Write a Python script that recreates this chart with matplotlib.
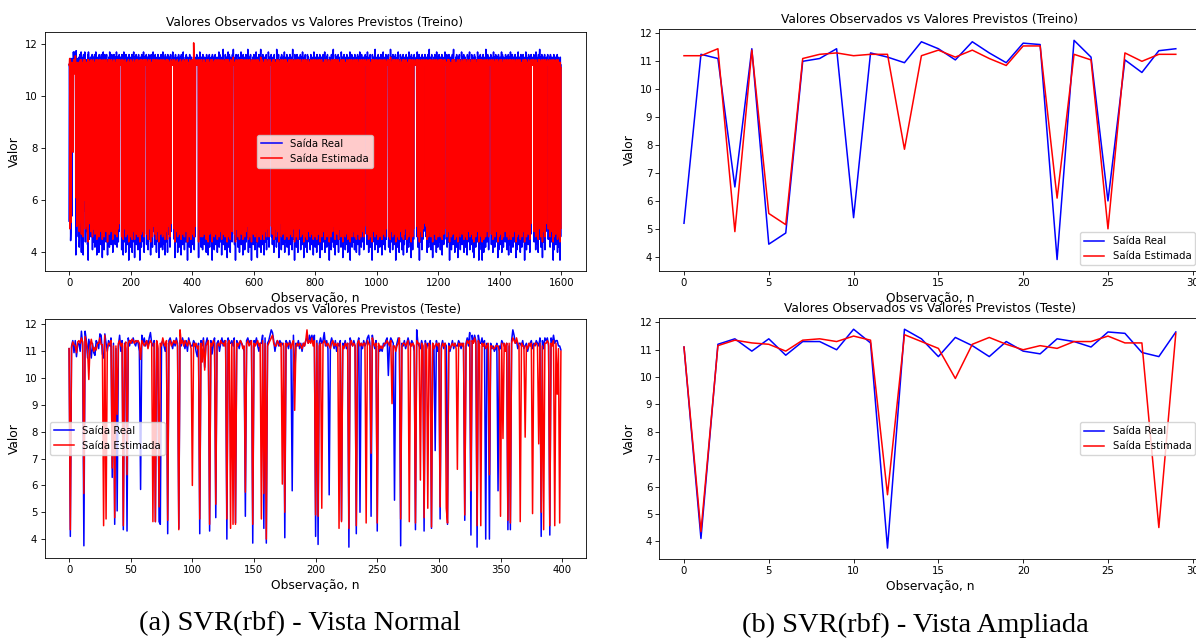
import numpy as np
import matplotlib
matplotlib.use("Agg")
import matplotlib.pyplot as plt

# ---------------- data (real/estimated pairs) ----------------
TRAIN_PAIRS = """
5.2/11.2 11.25/11.2 11.1/11.45 6.5/4.9 11.45/11.4 4.45/5.55 4.85/5.15 11.0/11.1 11.1/11.25 11.45/11.3
5.4/11.2 11.3/11.25 11.15/11.25 10.95/7.85 11.7/11.2 11.45/11.4 11.05/11.15 11.7/11.4 11.3/11.1 10.95/10.85
11.65/11.55 11.6/11.55 3.9/6.1 11.75/11.25 11.15/11.05 6.0/5.0 11.05/11.3 10.6/11.0 11.38/11.25 11.45/11.25
4.6/5.1 11.3/11.2 11.5/11.3 4.2/4.8 4.9/5.3 11.6/11.3 11.4/11.2 11.2/11.4 5.1/5.4 11.7/11.4
4.0/4.7 11.3/11.2 11.5/11.3 11.1/11.3 4.7/5.2 11.4/11.2 3.9/4.6 11.6/11.4 11.2/11.3 5.6/6.0
11.3/11.1 11.7/11.4 11.5/11.4 4.4/4.9 11.2/11.3 4.8/5.0 11.0/11.3 11.4/11.3 6.2/10.8 11.3/11.2
4.3/4.7 11.6/11.4 3.7/4.4 11.7/11.4 11.3/11.2 4.5/5.1 11.2/11.3 11.4/11.3 11.1/11.2 5.0/5.3
11.5/11.3 4.6/4.8 11.3/11.4 11.2/11.1 7.2/6.8 11.6/11.3 4.1/4.6 11.4/11.2 11.3/11.3 11.5/11.4
4.4/4.9 6.0/5.2 11.2/11.3 11.6/11.3 4.2/4.7 11.3/11.2 11.1/11.3 11.7/11.4 4.9/5.3 11.3/11.2
3.9/4.5 11.4/11.3 11.2/11.4 4.6/5.0 11.5/11.2 5.3/10.9 11.3/11.3 4.0/4.6 11.6/11.4 11.2/11.1

11.5/11.3 11.3/11.2 4.7/5.1 11.1/11.4 4.3/4.8 11.6/11.3 11.4/11.2 11.2/11.3 3.8/4.5 5.5/5.6
11.3/11.4 11.7/11.3 4.5/4.9 11.2/11.2 4.1/4.6 11.4/11.3 11.6/11.4 4.8/5.2 11.3/11.1 11.5/11.3
4.4/4.8 11.2/11.3 11.6/11.4 5.2/5.5 11.3/11.2 3.9/4.4 11.4/11.3 11.1/11.2 4.6/4.9 11.5/11.4
11.3/11.2 4.2/4.7 11.7/11.4 11.4/11.3 4.7/5.0 11.2/11.2 11.5/11.3 4.3/4.8 11.3/11.4 11.6/11.3
4.9/5.2 11.2/11.1 4.0/4.5 11.4/11.3 11.3/11.2 4.5/4.9 11.6/11.4 11.2/11.3 5.0/5.4 11.4/11.2
4.3/4.7 11.5/11.3 11.3/11.2 4.6/5.0 11.7/11.4 11.2/11.3 4.2/4.6 11.1/11.2 11.5/11.4 10.6/10.5
4.4/4.9 11.3/11.2 4.8/5.1 11.6/11.4 11.2/11.3 11.4/11.3 11.4/11.2 11.5/11.3 11.3/11.2 11.3/11.4
11.2/11.3 4.1/4.6 11.6/11.3 4.7/5.0 11.3/11.2 11.4/11.4 3.9/4.5 11.2/11.2 11.7/11.3 5.1/5.3
11.3/11.2 4.4/4.9 11.5/11.3 11.2/11.4 4.0/4.6 11.6/11.3 4.6/5.1 11.3/11.2 11.4/11.3 4.3/4.7
11.2/11.3 11.5/11.2 4.8/5.2 11.3/11.4 3.7/4.4 11.6/11.3 11.2/11.2 4.5/4.9 11.4/11.3 11.3/11.1

4.2/4.6 11.5/11.4 11.3/11.2 4.7/5.0 11.6/11.3 4.0/4.5 11.2/11.3 11.4/11.2 5.0/5.3 11.3/11.4
11.7/11.4 4.4/4.8 11.2/11.2 3.8/4.5 11.5/11.3 11.3/11.3 4.6/5.1 11.1/11.2 11.6/11.4 4.3/4.7
11.4/11.3 11.2/11.2 4.9/5.2 11.5/11.4 4.1/4.6 11.3/11.2 11.6/11.3 4.5/4.9 11.2/11.3 11.4/11.2
3.7/4.4 11.3/11.4 11.5/11.3 4.7/5.0 11.2/11.2 4.2/4.7 11.6/11.4 11.3/11.2 4.8/5.1 11.4/11.3
11.2/11.3 4.4/4.8 11.7/11.4 11.3/11.2 4.0/4.6 11.5/11.3 11.3/11.4 11.2/11.2 11.4/11.3 11.5/11.3
11.3/11.2 11.6/11.4 4.3/4.7 11.2/11.3 4.9/5.2 11.5/11.3 11.3/11.2 4.1/4.5 11.4/11.4 11.6/11.3
4.5/4.9 11.2/11.2 11.3/11.3 4.7/5.1 11.5/11.4 3.9/4.4 11.2/11.2 11.6/11.3 4.4/4.8 11.3/11.2
11.4/11.3 4.2/4.6 11.2/11.4 11.7/11.3 4.8/5.0 11.3/11.2 5.0/5.3 11.5/11.4 11.2/11.2 4.3/4.7
11.6/11.3 11.3/11.2 4.6/5.0 11.4/11.4 4.0/4.5 11.2/11.3 11.5/11.2 4.9/5.2 11.3/11.3 11.6/11.4
4.4/4.8 11.2/11.2 3.8/4.4 11.4/11.3 11.3/11.2 4.7/5.1 11.5/11.4 11.2/11.3 4.2/4.7 11.6/11.3

11.3/11.2 4.5/4.9 11.4/11.4 11.2/11.2 4.1/4.6 11.7/11.3 4.8/5.0 11.3/11.2 11.5/11.4 4.3/4.7
11.2/11.3 11.4/11.2 3.9/4.5 11.6/11.3 11.3/11.2 4.6/5.1 11.2/11.4 11.5/11.3 4.4/4.8 11.3/11.2
4.0/4.5 11.6/11.4 11.2/11.2 4.7/5.0 11.4/11.3 11.3/11.2 5.1/5.4 11.5/11.3 4.2/4.6 11.2/11.2
11.6/11.4 4.8/5.1 11.3/11.3 11.4/11.2 11.3/11.3 11.2/11.3 11.5/11.2 11.7/11.4 11.3/11.2 11.4/11.3
11.5/11.3 11.2/11.2 4.5/4.9 11.4/11.4 3.8/4.4 11.3/11.2 11.6/11.3 4.9/5.2 11.2/11.3 11.4/11.2
4.4/4.8 11.3/11.2 11.5/11.4 4.0/4.6 11.2/11.2 4.7/5.0 11.6/11.3 11.3/11.3 4.2/4.7 11.4/11.2
11.2/11.3 4.6/5.1 11.5/11.4 11.3/11.2 3.9/4.5 11.6/11.3 11.2/11.2 4.8/5.0 11.4/11.3 4.3/4.7
11.3/11.2 11.7/11.4 4.5/4.9 11.2/11.3 11.4/11.2 4.1/4.6 11.3/11.3 5.0/5.3 11.5/11.4 11.2/11.2
4.4/4.8 11.6/11.3 11.3/11.2 4.7/5.1 11.2/11.4 3.7/4.4 11.5/11.3 11.3/11.2 4.6/4.9 11.4/11.3
11.2/11.2 4.2/4.6 11.6/11.4 11.3/11.2 4.9/5.2 11.4/11.3 4.0/4.5 11.2/11.2 11.5/11.3 4.5/4.9

11.3/11.4 11.4/11.2 4.3/4.7 11.2/11.3 4.8/5.1 11.3/12.05 11.6/11.4 4.1/4.6 11.2/11.2 11.5/11.3
4.6/5.0 11.3/11.2 11.4/11.4 11.2/11.3 11.2/11.3 11.6/11.2 11.4/11.3 11.3/11.3 11.2/11.2 11.5/11.4
11.2/11.2 3.8/4.4 11.4/11.3 11.3/11.2 4.5/4.9 11.7/11.4 11.2/11.3 4.9/5.2 11.4/11.2 4.2/4.6
11.3/11.3 11.5/11.4 4.6/5.0 11.2/11.2 4.1/4.6 11.6/11.3 11.3/11.2 4.8/5.1 11.4/11.4 11.2/11.2
4.3/4.7 11.5/11.3 10.3/10.4 11.3/11.2 4.7/5.0 11.2/11.3 4.0/4.5 11.6/11.4 11.3/11.2 4.5/4.9
11.4/11.3 11.2/11.2 3.9/4.4 11.5/11.4 4.6/5.1 11.3/11.2 11.6/11.3 4.2/4.7 11.2/11.2 11.4/11.3
4.8/5.0 11.3/11.4 11.5/11.2 4.4/4.8 11.2/11.3 3.7/4.4 11.6/11.4 11.3/11.2 4.6/4.9 11.4/11.3
11.2/11.2 11.5/11.3 4.1/4.6 11.3/11.2 4.9/5.2 11.6/11.4 11.2/11.3 4.3/4.7 11.4/11.2 11.3/11.3
4.7/5.1 11.5/11.4 4.0/4.5 11.2/11.2 11.4/11.3 4.5/4.9 11.3/11.2 11.7/11.4 4.2/4.6 11.2/11.3
11.6/11.3 4.8/5.0 11.3/11.2 4.4/4.8 11.4/11.4 11.2/11.2 3.9/4.5 11.5/11.3 11.3/11.2 4.6/5.1

11.2/11.3 11.8/11.4 4.3/4.7 11.4/11.2 4.7/5.0 11.3/11.3 11.2/11.2 4.1/4.6 11.6/11.4 5.6/7.1
11.3/11.2 4.5/4.9 11.5/11.3 11.2/11.4 3.8/4.4 11.4/11.3 4.9/5.2 11.7/11.4 11.3/11.2 4.2/4.6
11.2/11.2 11.6/11.3 4.6/5.0 11.3/11.3 4.0/4.5 11.5/11.4 11.2/11.2 4.8/5.1 11.4/11.3 11.3/11.2
4.4/4.8 11.6/11.4 11.2/11.3 11.3/11.2 11.8/11.5 11.3/11.2 11.4/11.3 11.4/11.3 4.3/4.7 11.2/11.2
11.5/11.3 3.7/4.4 11.3/11.2 11.6/11.4 4.5/4.9 11.2/11.3 11.4/11.2 4.9/5.3 11.3/11.3 4.2/4.6
11.6/11.4 11.2/11.2 4.6/5.0 11.4/11.3 4.0/4.5 11.3/11.2 11.5/11.4 4.8/5.1 11.2/11.3 11.7/11.4
4.3/4.7 11.3/11.2 4.7/5.0 11.4/11.4 11.2/11.2 3.9/4.5 11.6/11.3 11.3/11.2 4.5/4.9 11.5/11.4
11.2/11.3 4.1/4.6 11.4/11.2 11.3/11.3 4.8/5.2 11.6/11.4 4.4/4.8 11.2/11.2 11.5/11.3 11.3/11.2
4.6/5.0 11.8/11.4 11.2/11.3 4.0/4.5 11.4/11.2 4.7/5.1 11.3/11.3 11.5/11.4 4.2/4.6 11.2/11.2
11.6/11.3 4.9/5.2 11.3/11.2 3.7/4.4 11.4/11.4 11.2/11.3 4.5/4.9 11.5/11.2 11.3/11.3 4.3/4.7

11.2/11.2 11.6/11.4 4.6/5.0 11.3/11.3 4.1/4.6 11.4/11.2 11.2/11.3 4.8/5.1 11.7/11.4 11.3/11.2
4.4/4.8 11.5/11.3 3.8/4.4 11.2/11.2 11.4/11.4 4.7/5.0 11.3/11.2 11.6/11.3 4.2/4.6 11.2/11.3
11.4/11.2 4.5/4.9 11.3/11.3 11.8/11.5 4.0/4.5 11.2/11.2 4.9/5.2 11.5/11.4 11.3/11.2 4.3/4.7
11.6/11.3 11.2/11.3 4.6/5.1 11.4/11.2 3.9/4.5 11.3/11.3 11.5/11.4 4.8/5.0 11.2/11.2 4.4/4.8
11.3/11.2 11.6/11.4 4.1/4.6 11.2/11.3 4.7/5.1 11.4/11.2 11.3/11.3 4.5/4.9 11.7/11.4 11.2/11.2
4.2/4.6 11.5/11.3 11.3/11.2 11.2/11.3 11.4/11.4 11.3/11.2 11.2/11.2 11.6/11.3 4.6/5.0 11.3/11.2
11.4/11.3 4.3/4.7 11.2/11.2 11.5/11.4 4.8/5.1 11.3/11.3 4.0/4.5 11.6/11.4 11.2/11.2 4.5/4.9
11.4/11.3 11.3/11.2 4.7/5.0 11.2/11.3 4.2/4.6 11.8/11.4 11.3/11.2 6.4/6.0 11.5/11.3 4.4/4.8
11.2/11.2 11.6/11.4 3.8/4.4 11.3/11.3 4.6/5.1 11.4/11.2 11.2/11.3 4.9/5.2 11.5/11.4 11.3/11.2
4.1/4.6 11.6/11.3 11.2/11.2 4.7/5.0 11.4/11.4 4.3/4.7 11.3/11.2 11.5/11.3 4.5/4.9 11.2/11.2

11.7/11.4 4.0/4.5 11.3/11.3 11.2/11.2 4.8/5.1 11.5/11.4 4.4/4.8 11.3/11.2 11.6/11.3 4.2/4.6
11.2/11.3 11.4/11.2 4.6/5.0 11.3/11.3 3.9/4.5 11.5/11.4 11.2/11.2 4.7/5.1 11.6/11.3 11.3/11.2
4.3/4.7 11.4/11.4 11.2/11.2 4.9/5.2 11.5/11.3 4.1/4.6 11.3/11.2 11.8/11.4 4.5/4.9 11.2/11.3
11.4/11.2 4.8/5.0 11.3/11.3 3.7/4.4 11.6/11.4 11.2/11.2 4.6/5.1 11.5/11.3 11.3/11.2 4.2/4.6
11.2/11.2 11.6/11.4 4.4/4.8 11.4/11.3 4.0/4.5 11.3/11.2 11.5/11.4 4.7/5.0 11.2/11.3 11.4/11.2
4.5/4.9 11.3/11.3 11.6/11.4 4.1/4.6 11.2/11.2 4.9/5.2 11.5/11.3 11.3/11.2 4.3/4.7 11.7/11.4
11.2/11.2 4.6/5.0 11.4/11.3 3.8/4.4 11.3/11.2 11.5/11.4 4.8/5.1 11.2/11.3 11.6/11.2 4.2/4.6
11.3/11.3 11.4/11.4 4.5/4.9 11.2/11.2 4.0/4.5 11.6/11.3 11.3/11.2 4.7/5.1 11.5/11.4 11.2/11.2
4.4/4.8 11.3/11.3 8.6/7.9 11.4/11.2 4.1/4.6 11.2/11.3 11.6/11.4 4.9/5.2 11.3/11.2 4.3/4.7
11.5/11.3 11.2/11.2 4.6/5.0 11.4/11.4 3.9/4.5 11.3/11.2 11.7/11.4 4.8/5.1 11.2/11.3 11.4/11.2

4.2/4.6 11.3/11.3 11.5/11.4 4.5/4.9 11.2/11.2 4.0/4.5 11.6/11.3 11.3/11.2 4.7/5.0 11.4/11.4
11.2/11.2 4.3/4.7 11.5/11.3 11.3/11.2 4.9/5.2 11.6/11.4 3.8/4.4 11.2/11.3 11.4/11.2 4.6/5.0
11.3/11.3 11.5/11.4 4.1/4.6 11.2/11.2 4.8/5.1 11.4/11.3 11.6/11.2 4.4/4.8 11.3/11.3 11.2/11.2
4.5/4.9 11.7/11.4 4.0/4.5 11.3/11.2 11.4/11.3 4.7/5.1 11.2/11.2 11.5/11.4 4.2/4.6 11.3/11.3
11.6/11.3 4.9/5.2 11.2/11.2 4.3/4.7 11.4/11.4 11.3/11.2 3.7/4.4 11.5/11.3 11.2/11.3 4.6/5.0
11.4/11.2 11.3/11.3 4.1/4.6 11.6/11.4 4.8/5.1 11.2/11.2 11.5/11.3 4.4/4.8 11.3/11.2 11.8/11.4
4.2/10.9 11.3/11.3 4.6/5.0 11.2/11.2 11.4/11.4 3.9/4.5 11.6/11.3 11.3/11.2 4.7/5.1 11.5/11.4
11.2/11.2 4.3/4.7 11.4/11.3 11.3/11.2 4.9/5.2 11.6/11.4 4.0/4.5 11.2/11.3 11.5/11.2 4.5/4.9
11.3/11.3 11.2/11.2 4.8/5.1 11.4/11.4 4.2/4.6 11.7/11.3 11.3/11.2 4.6/5.0 11.2/11.2 11.5/11.4
3.8/4.4 11.4/11.3 11.3/11.2 4.4/4.8 11.6/11.4 4.9/5.2 11.2/11.2 11.5/11.3 4.1/4.6 11.3/11.2

11.2/11.3 4.7/5.0 11.4/11.2 11.6/11.4 4.3/4.7 11.3/11.3 4.0/4.5 11.5/11.2 11.2/11.2 4.6/5.1
11.4/11.4 11.3/11.2 4.8/5.1 11.7/11.4 3.7/4.4 11.2/11.3 11.4/11.2 4.5/4.9 11.3/11.3 11.6/11.4
4.2/4.6 11.2/11.2 4.9/5.2 11.5/11.3 11.3/11.2 4.4/4.8 11.4/11.4 11.2/11.2 4.1/4.6 11.6/11.3
11.3/11.2 4.7/5.0 11.5/11.4 11.2/11.3 4.0/4.5 11.4/11.2 4.6/5.1 11.3/11.3 11.6/11.4 4.3/4.7
11.2/11.2 11.5/11.3 4.8/5.1 11.3/11.2 3.9/4.5 11.7/11.4 11.2/11.3 4.5/4.9 11.4/11.2 11.3/11.3
4.2/4.6 11.6/11.4 11.2/11.2 4.9/5.2 11.4/11.3 4.4/4.8 11.3/11.2 11.5/11.4 4.1/4.6 11.2/11.3
11.4/11.2 4.7/5.0 11.3/11.3 11.6/11.4 11.3/11.2 11.2/11.2 11.4/11.3 11.5/11.3 11.3/11.2 4.3/4.7
11.7/11.4 11.2/11.2 4.5/4.9 11.4/11.3 4.0/4.5 11.3/11.2 11.5/11.4 4.8/5.1 11.2/11.3 11.6/11.2
4.2/4.6 11.3/11.3 4.9/5.2 11.2/11.2 11.4/11.4 3.7/4.4 11.6/11.3 11.3/11.2 4.4/4.8 11.5/11.4
11.2/11.2 4.6/5.0 11.4/11.3 11.3/11.2 4.1/4.6 11.8/11.4 11.2/11.3 4.7/5.1 11.4/11.2 4.3/4.7

11.3/11.3 11.5/11.4 4.5/4.9 11.2/11.2 4.0/4.5 11.6/11.3 11.3/11.2 4.8/5.1 11.4/11.4 11.2/11.2
4.2/4.6 11.5/11.3 4.9/5.2 11.3/11.2 11.6/11.4 4.4/4.8 11.2/11.3 3.9/4.5 11.4/11.2 11.3/11.3
4.6/5.0 11.7/11.4 11.2/11.2 4.3/4.7 11.5/11.3 4.7/5.1 11.3/11.2 11.4/11.4 4.1/4.6 11.2/11.2
11.6/11.3 4.5/4.9 11.3/11.2 11.2/11.3 11.4/11.3 11.5/11.4 11.2/11.3 11.3/11.2 11.6/11.3 4.2/4.6
11.2/11.2 11.4/11.4 4.6/5.0 11.3/11.2 4.0/4.5 11.8/11.5 11.2/11.3 4.9/5.2 11.5/11.2 4.4/4.8
11.3/11.3 11.2/11.2 4.1/4.6 11.6/11.4 4.7/5.1 11.4/11.3 11.3/11.2 4.3/4.7 11.5/11.4 11.2/11.2
4.5/4.9 11.6/11.3 3.7/4.4 11.3/11.2 11.4/11.4 4.8/5.1 11.2/11.2 11.5/11.3 4.2/4.6 11.3/11.3
11.7/11.4 4.6/5.0 11.2/11.2 4.0/4.5 11.4/11.3 11.3/11.2 4.9/5.2 11.6/11.4 11.2/11.3 4.4/4.8
11.5/11.2 11.3/11.3 4.1/4.6 11.2/11.2 4.7/5.1 11.4/11.4 11.6/11.3 3.9/4.5 11.3/11.2 11.5/11.4
4.3/4.7 11.2/11.2 4.8/5.1 11.4/11.3 11.3/11.2 4.5/4.9 11.6/11.4 11.2/11.2 4.0/4.5 11.5/11.3

11.3/11.2 4.6/5.0 11.2/11.3 11.4/11.2 4.2/4.6 11.7/11.4 11.3/11.3 4.9/5.2 11.2/11.2 4.4/4.8
11.5/11.4 11.3/11.2 3.8/4.4 11.6/11.3 4.7/5.1 11.2/11.2 11.4/11.4 4.1/4.6 11.3/11.2 11.5/11.3
4.5/4.9 11.2/11.2 11.6/11.4 11.4/11.3 11.3/11.3 11.2/11.2 11.4/11.2 11.2/11.2 11.3/11.3 11.5/11.4
11.3/11.3 4.6/5.0 11.7/11.4 11.2/11.2 4.2/4.6 11.4/11.3 4.9/5.2 11.3/11.2 11.6/11.4 3.7/4.4
11.2/11.2 11.5/11.3 4.4/4.8 11.3/11.2 4.7/5.1 11.4/11.4 11.2/11.2 4.1/4.6 11.6/11.3 11.3/11.2
4.5/4.9 11.5/11.4 11.2/11.3 11.3/11.2 11.4/11.2 11.2/11.3 11.3/11.3 11.6/11.4 4.8/5.1 11.2/11.2
11.4/11.3 4.6/5.0 11.3/11.2 11.5/11.4 4.0/4.5 11.2/11.2 4.7/9.6 11.6/11.3 11.3/11.2 4.2/4.6
11.2/11.3 11.8/11.4 4.9/5.2 11.4/11.2 4.4/4.8 11.3/11.3 11.5/11.4 4.1/4.6 11.2/11.2 11.6/11.3
4.6/5.0 11.3/11.2 3.8/4.4 11.4/11.4 11.2/11.2 4.8/5.1 11.5/11.3 11.3/11.2 4.3/4.7 11.6/11.4
11.2/11.2 4.5/4.9 11.4/11.3 11.3/11.2 4.0/4.5 11.7/11.4 11.2/11.3 4.7/5.1 11.5/11.2 4.2/4.6

11.3/11.3 11.2/11.2 4.9/5.2 11.6/11.4 4.4/4.8 11.4/11.3 11.3/11.2 4.1/4.6 11.5/11.4 11.2/11.2
4.6/5.0 11.3/11.3 11.6/11.4 3.9/4.5 11.2/11.2 4.8/5.1 11.4/11.3 11.3/11.2 4.3/4.7 11.5/11.4
11.2/11.2 4.5/4.9 11.7/11.4 11.3/11.3 11.2/11.3 11.4/11.2 11.3/11.3 11.2/11.2 11.6/11.3 4.2/4.6
11.3/11.2 11.5/11.4 4.9/5.2 11.2/11.3 4.4/4.8 11.6/11.4 11.3/11.2 3.7/4.4 11.4/11.3 11.2/11.2
4.6/5.0 11.5/11.3 11.3/11.2 4.1/4.6 11.2/11.2 4.8/5.1 11.6/11.4 11.4/11.3 4.3/4.7 11.3/11.2
11.8/11.4 4.5/4.9 11.2/11.2 11.4/11.4 4.0/4.5 11.3/11.3 4.7/5.1 11.5/11.2 11.2/11.2 4.2/4.6
11.6/11.3 11.3/11.2 4.9/5.2 11.4/11.4 3.8/4.4 11.2/11.2 11.5/11.3 4.4/4.8 11.3/11.2 11.6/11.4
4.6/5.0 11.2/11.3 4.1/4.6 11.4/11.2 11.3/11.3 4.8/5.1 11.7/11.4 11.2/11.2 4.3/4.7 11.5/11.3
11.3/11.2 4.5/4.9 11.2/11.2 11.6/11.4 4.0/4.5 11.4/11.3 4.7/5.1 11.3/11.2 11.5/11.4 4.2/4.6
11.2/11.2 11.4/11.3 4.9/5.2 11.3/11.2 3.9/4.5 11.6/11.4 11.2/11.2 4.4/4.8 11.5/11.3 11.3/11.2

4.6/5.0 11.2/11.3 11.7/11.4 4.1/4.6 11.4/11.2 4.8/5.1 11.3/11.3 11.2/11.2 4.3/4.7 11.6/11.4
11.3/11.2 4.5/4.9 11.5/11.3 11.2/11.2 4.0/4.5 11.4/11.4 3.8/4.4 11.3/11.2 11.6/11.3 4.7/5.1
11.2/11.2 11.5/11.4 4.2/4.6 11.3/11.3 4.9/5.2 11.4/11.2 11.2/11.2 4.4/4.8 11.7/11.4 11.3/11.2
4.6/5.0 11.2/11.3 3.7/4.4 11.5/11.4 11.3/11.2 4.1/4.6 11.4/11.3 11.6/11.4 4.8/5.1 11.2/11.2
11.3/11.2 4.3/4.7 11.5/11.4 3.7/4.4 11.2/11.2 4.5/4.9 11.6/11.3 11.3/11.2 4.0/4.5 11.4/11.4
11.2/11.2 4.7/5.1 11.5/11.3 11.3/11.2 4.2/4.6 11.8/11.4 11.2/11.3 4.9/5.2 11.4/11.2 4.4/4.8
11.3/11.3 11.6/11.4 4.6/5.0 11.2/11.2 4.1/4.6 11.5/11.3 11.3/11.2 11.2/11.3 11.4/11.4 11.2/11.2
11.3/11.2 11.6/11.3 11.3/11.2 4.3/4.7 11.5/11.4 4.5/4.9 11.2/11.2 11.4/11.3 4.0/4.5 11.3/11.2
11.7/11.4 4.7/5.1 11.2/11.2 11.5/11.3 4.2/4.6 11.3/11.3 4.9/5.2 11.6/11.4 11.2/11.2 4.4/4.8
11.4/11.3 11.3/11.2 4.6/5.0 11.5/11.4 3.8/4.4 11.2/11.2 11.6/11.3 4.1/4.6 11.3/11.2 4.8/5.1

11.2/11.3 11.5/11.4 4.3/4.7 11.4/11.2 4.5/4.9 11.3/11.3 11.7/11.4 4.0/4.5 11.2/11.2 11.6/11.3
4.7/5.1 11.3/11.2 4.2/4.6 11.5/11.4 11.2/11.2 4.9/5.2 11.4/11.3 11.3/11.2 4.4/4.8 11.6/11.4
11.2/11.2 4.6/5.0 11.5/11.3 11.3/11.2 4.1/4.6 11.4/11.4 4.8/5.1 11.2/11.2 11.6/11.3 3.9/4.5
11.3/11.2 11.5/11.4 4.3/4.7 11.2/11.3 4.5/4.9 11.7/11.4 11.3/11.2 4.0/4.5 11.4/11.3 11.2/11.2
4.7/5.1 11.6/11.4 11.3/11.2 4.2/4.6 11.5/11.3 4.9/5.2 11.2/11.2 11.4/11.4 4.4/4.8 11.3/11.2
11.6/11.3 4.6/5.0 11.2/11.2 3.8/4.4 11.5/11.4 11.3/11.2 4.1/4.6 11.4/11.3 11.2/11.2 4.8/5.1
11.7/11.4 11.3/11.3 4.3/4.7 11.2/11.2 4.5/4.9 11.5/11.3 11.4/11.4 4.0/4.5 11.3/11.2 11.6/11.3
4.7/5.1 11.2/11.2 4.2/4.6 11.4/11.3 11.3/11.2 4.9/5.2 11.6/11.4 11.2/11.2 4.4/4.8 11.5/11.3
11.3/11.2 3.7/4.4 11.4/11.4 11.2/11.2 4.6/5.0 11.7/11.4 11.3/11.2 4.1/4.6 11.5/11.3 11.2/11.2
4.8/5.1 11.4/11.3 11.3/11.2 4.3/4.7 11.6/11.4 4.5/4.9 11.2/11.2 11.5/11.3 4.0/4.5 11.3/11.3

11.2/11.2 4.7/5.1 11.6/11.4 11.3/11.2 11.4/11.2 11.4/11.3 11.2/11.3 11.2/11.2 11.5/11.4 11.3/11.2
11.3/11.3 11.6/11.4 4.4/4.8 11.2/11.2 4.6/5.0 11.4/11.3 11.3/11.2 4.1/4.6 11.7/11.4 11.2/11.2
4.8/5.1 11.5/11.3 11.3/11.2 4.3/4.7 11.2/11.2 4.0/4.5 11.6/11.4 11.4/11.3 4.5/4.9 11.3/11.2
11.8/11.4 4.7/5.1 11.2/11.2 11.5/11.3 4.2/4.6 11.3/11.3 4.9/5.2 11.6/11.4 11.2/11.2 3.8/4.4
11.4/11.3 11.3/11.2 4.4/4.8 11.5/11.4 4.6/5.0 11.2/11.2 11.6/11.3 4.1/4.6 11.3/11.2 11.4/11.4
4.8/5.1 11.2/11.2 11.5/11.3 11.4/11.3 11.3/11.2 11.2/11.3 11.6/11.4 11.2/11.2 4.5/4.9 11.4/11.3
11.3/11.2 4.7/5.1 11.2/11.2 11.5/11.4 4.2/4.6 11.6/11.3 11.3/11.2 4.9/5.2 11.2/11.2 4.4/4.8
11.5/11.4 11.3/11.3 4.6/5.0 11.2/11.2 3.7/4.4 11.4/11.3 11.6/11.4 4.1/4.6 11.3/11.2 11.2/11.2
4.8/5.1 11.5/11.3 4.3/4.7 11.3/11.2 11.4/11.4 4.5/4.9 11.2/11.2 11.6/11.3 4.0/4.5 11.3/11.2
11.5/11.4 4.7/5.1 11.2/11.2 4.2/4.6 11.4/11.3 11.3/11.2 3.7/4.4 11.5/11.3 4.6/4.9 11.2/11.1
"""

TEST_PAIRS = """
11.1/11.1 4.1/4.35 11.2/11.15 11.4/11.35 10.95/11.25 11.4/11.2 10.8/10.95 11.3/11.35 11.3/11.4 11.0/11.3
11.75/11.5 11.25/11.35 3.75/5.7 11.75/11.55 11.4/11.3 10.75/11.05 11.45/9.95 11.15/11.2 10.75/11.45 11.3/11.2
10.95/11.0 10.85/11.15 11.4/11.05 11.3/11.3 11.1/11.3 11.65/11.5 11.6/11.25 10.9/11.25 10.75/4.5 11.65/11.6
11.3/4.75 11.0/11.1 11.4/11.3 11.2/11.25 11.5/11.4 6.3/6.65 11.3/11.2 4.55/4.8 11.1/11.2 5.05/8.65
11.2/11.3 11.6/11.4 11.0/11.2 11.4/11.3 4.35/4.5 11.3/11.2 11.1/11.35 4.3/6.4 11.5/11.3 11.2/11.4
11.4/11.3 11.3/11.45 11.5/11.4 11.3/11.3 11.2/11.4 11.4/11.35 11.3/11.4 11.0/11.3 5.85/10.7 11.6/11.4
11.3/11.3 11.5/11.2 11.2/11.3 11.4/11.4 11.2/11.1 11.5/11.3 11.7/11.4 11.3/11.3 11.2/4.65 11.4/11.3
4.65/4.65 11.3/11.4 11.1/11.2 4.65/5.2 4.55/11.3 11.3/11.2 11.4/11.5 11.2/11.3 11.0/11.2 11.3/11.4
4.2/4.7 11.4/11.3 11.5/11.4 11.3/11.2 11.1/11.3 11.4/11.4 11.2/11.3 11.5/11.4 11.3/11.2 4.4/4.35
11.4/11.8 11.2/11.3 11.5/11.4 11.3/11.2 11.1/11.4 11.4/11.3 11.0/11.2 11.5/11.4 11.3/11.3 11.2/11.1
11.2/6.0 11.4/11.3 11.3/11.2 11.0/11.3 10.8/11.1 11.3/11.2 4.2/4.75 11.4/11.3 11.2/10.6 11.5/11.4
10.4/10.3 11.3/11.2 11.5/11.3 11.2/11.4 4.3/4.55 11.4/11.3 10.9/11.2 11.3/11.4 11.5/11.3 4.8/5.3
11.3/11.2 11.4/11.3 11.0/11.2 11.3/11.4 11.5/11.3 11.2/11.3 11.4/11.2 11.3/11.4 4.0/4.75 11.5/11.3
11.3/11.4 11.3/4.4 11.4/11.3 11.2/4.55 11.5/11.4 4.6/4.55 11.4/11.3 11.3/11.2 11.1/11.3 11.4/11.4
11.3/11.3 11.2/11.1 11.0/11.2 4.85/5.75 11.4/11.3 11.5/11.4 11.3/11.2 11.4/11.3 11.2/11.4 3.85/4.55
11.4/11.3 11.3/11.2 11.5/11.3 11.2/11.4 11.0/11.2 11.3/11.3 11.3/4.75 11.6/11.4 4.4/5.7 11.5/11.3
3.85/4.0 11.3/11.2 11.4/11.3 11.6/11.4 11.8/11.5 11.7/11.6 11.4/11.3 11.0/11.2 11.3/11.2 11.4/11.4
11.2/11.3 11.4/11.2 11.3/11.3 11.3/6.05 11.2/11.3 4.05/5.0 11.4/11.3 11.3/11.2 11.1/11.3 11.4/11.3
11.2/11.1 5.8/11.3 11.6/11.4 9.9/8.8 11.3/11.2 11.2/11.3 11.4/11.2 11.1/11.3 11.3/11.2 11.0/11.1
11.3/11.3 11.2/11.2 11.4/11.4 11.5/11.8 11.3/11.3 11.6/11.4 11.4/11.3 11.6/11.5 11.3/11.2 11.6/11.4
4.1/4.9 11.4/11.3 3.8/4.85 11.3/11.2 11.5/11.3 11.3/5.15 11.4/11.3 11.7/11.4 11.2/11.3 11.4/11.2
11.1/11.3 5.65/11.2 11.3/11.1 11.5/11.3 11.3/11.4 11.1/11.2 11.4/11.3 11.0/11.2 11.3/11.3 11.2/4.4
11.4/11.3 4.7/4.65 11.3/11.2 11.2/11.1 11.4/11.3 11.1/11.2 11.3/11.3 3.7/4.4 11.5/11.3 11.3/11.4
11.2/11.2 11.4/11.3 11.2/11.2 4.2/4.5 11.3/11.3 11.5/11.4 5.0/11.2 11.3/11.3 11.1/11.2 11.4/11.3
11.2/11.3 11.3/4.6 11.5/11.4 11.6/11.3 11.3/11.2 4.85/7.2 11.6/11.5 11.3/11.3 11.1/11.2 11.4/11.3
4.3/4.6 11.2/11.3 11.0/11.1 11.1/11.2 11.0/11.1 11.3/11.2 11.2/11.3 11.4/11.3 11.5/11.4 10.1/11.3
11.3/11.2 11.5/11.4 11.4/9.05 11.3/11.2 5.45/11.2 11.1/11.0 11.3/11.2 11.5/11.3 11.4/11.5 3.75/4.75
11.3/11.2 11.2/11.3 11.4/11.3 11.1/11.2 11.3/11.3 11.5/11.4 11.3/4.65 11.2/11.3 11.4/11.2 11.3/11.3
11.0/11.2 4.35/4.6 11.8/11.4 11.3/11.3 11.2/11.3 11.1/6.2 11.4/11.3 11.2/11.2 4.3/4.8 11.4/11.3
11.1/11.2 11.3/5.15 11.2/11.3 11.4/11.2 4.4/4.45 11.3/11.3 11.2/11.1 7.3/11.2 11.4/11.3 11.0/11.2
11.3/11.3 4.75/5.2 11.2/11.1 11.4/11.3 11.1/11.2 11.3/11.3 11.2/5.15 4.55/4.6 11.3/11.2 11.0/11.1
11.2/11.2 11.4/11.3 11.1/11.2 11.3/11.3 11.2/11.1 11.2/6.6 11.4/11.3 11.3/11.2 11.1/11.3 11.3/11.2
11.2/11.3 4.7/4.9 11.3/11.2 11.5/11.4 11.2/11.3 11.7/11.4 4.15/5.8 11.6/11.4 11.3/11.3 11.6/11.5
11.4/11.3 3.7/4.5 11.6/11.4 11.3/11.2 11.3/4.5 11.5/11.3 11.2/11.2 11.4/11.3 4.0/11.1 11.3/11.2
11.2/11.3 4.0/6.4 11.3/11.2 11.1/11.2 11.2/11.1 11.0/11.1 11.1/11.2 11.3/11.2 5.8/11.2 11.2/11.0
11.1/4.85 11.4/11.3 11.3/7.75 11.2/11.3 11.1/11.0 11.3/11.3 4.35/4.7 11.2/11.3 4.35/4.6 11.4/11.3
11.8/11.5 11.6/11.4 11.3/11.3 11.4/11.5 11.1/11.3 11.3/11.2 11.3/4.65 11.2/11.3 11.4/11.2 11.1/11.2
11.2/7.8 11.3/11.2 11.0/11.1 11.2/11.3 11.3/11.2 11.4/11.3 11.1/4.95 11.3/11.2 11.2/11.3 11.4/11.3
11.3/11.2 11.2/7.55 11.5/11.3 4.1/5.0 11.4/11.2 11.1/4.35 11.5/11.3 11.4/11.3 11.5/11.4 11.2/11.3
4.15/4.5 11.5/11.3 11.3/11.2 11.6/11.4 11.3/4.5 11.4/11.3 11.4/9.4 11.2/11.1 11.2/4.6 11.05/11.0
"""

ZOOM_N = 30  # observations shown in the enlarged view
LABEL_REAL = "Saída Real"
LABEL_EST = "Saída Estimada"
TITLE_TRAIN = "Valores Observados vs Valores Previstos (Treino)"
TITLE_TEST = "Valores Observados vs Valores Previstos (Teste)"
XLABEL = "Observação, n"
YLABEL = "Valor"
CAPTION_A = "(a) SVR(rbf) - Vista Normal"
CAPTION_B = "(b) SVR(rbf) - Vista Ampliada"


def split_pairs(text):
    toks = [t.split("/") for t in text.split()]
    return (np.array([float(a) for a, _ in toks]),
            np.array([float(b) for _, b in toks]))


train_real, train_pred = split_pairs(TRAIN_PAIRS)
test_real, test_pred = split_pairs(TEST_PAIRS)

# ---------------- drawing ----------------
W, H = 1196, 640
fig = plt.figure(figsize=(W / 100, H / 100), dpi=100)


def box(left, top, width, bottom):
    return [left / W, 1 - bottom / H, width / W, (bottom - top) / H]


ax_lt = fig.add_axes(box(44.5, 32, 541, 271))
ax_lb = fig.add_axes(box(44.5, 319, 541, 558))
ax_rt = fig.add_axes(box(659.4, 29.4, 541, 270.5))
ax_rb = fig.add_axes(box(659.4, 318.3, 541, 559))

TICK_FS = 7.3
LAB_FS = 8.8
LW = 1.1


def draw(ax, real, pred, title, legend_loc):
    n = np.arange(len(real))
    ax.plot(n, real, color="blue", lw=LW, label=LABEL_REAL)
    ax.plot(n, pred, color="red", lw=LW, label=LABEL_EST)
    ax.set_title(title, fontsize=LAB_FS, pad=4.4)
    ax.set_xlabel(XLABEL, fontsize=LAB_FS, labelpad=2.9)
    ax.set_ylabel(YLABEL, fontsize=LAB_FS, labelpad=2.9)
    ax.tick_params(labelsize=TICK_FS, length=2.6, width=0.6, pad=2.5)
    for s in ax.spines.values():
        s.set_linewidth(0.6)
    ax.legend(loc=legend_loc, fontsize=TICK_FS, handlelength=2.0,
              borderpad=0.4, labelspacing=0.5, borderaxespad=0.5)


draw(ax_lt, train_real, train_pred, TITLE_TRAIN, "center")
draw(ax_lb, test_real, test_pred, TITLE_TEST, "center left")
draw(ax_rt, train_real[:ZOOM_N], train_pred[:ZOOM_N], TITLE_TRAIN, "lower right")
draw(ax_rb, test_real[:ZOOM_N], test_pred[:ZOOM_N], TITLE_TEST, "center right")

for ax in (ax_rt, ax_rb):
    ax.set_yticks(np.arange(4, 13, 1))

fig.text(300 / W, 1 - 624 / H, CAPTION_A, ha="center", va="center",
         fontsize=20.5, family="Liberation Serif")
fig.text(915 / W, 1 - 625 / H, CAPTION_B, ha="center", va="center",
         fontsize=20.5, family="Liberation Serif")

fig.savefig("out.png", dpi=100)
